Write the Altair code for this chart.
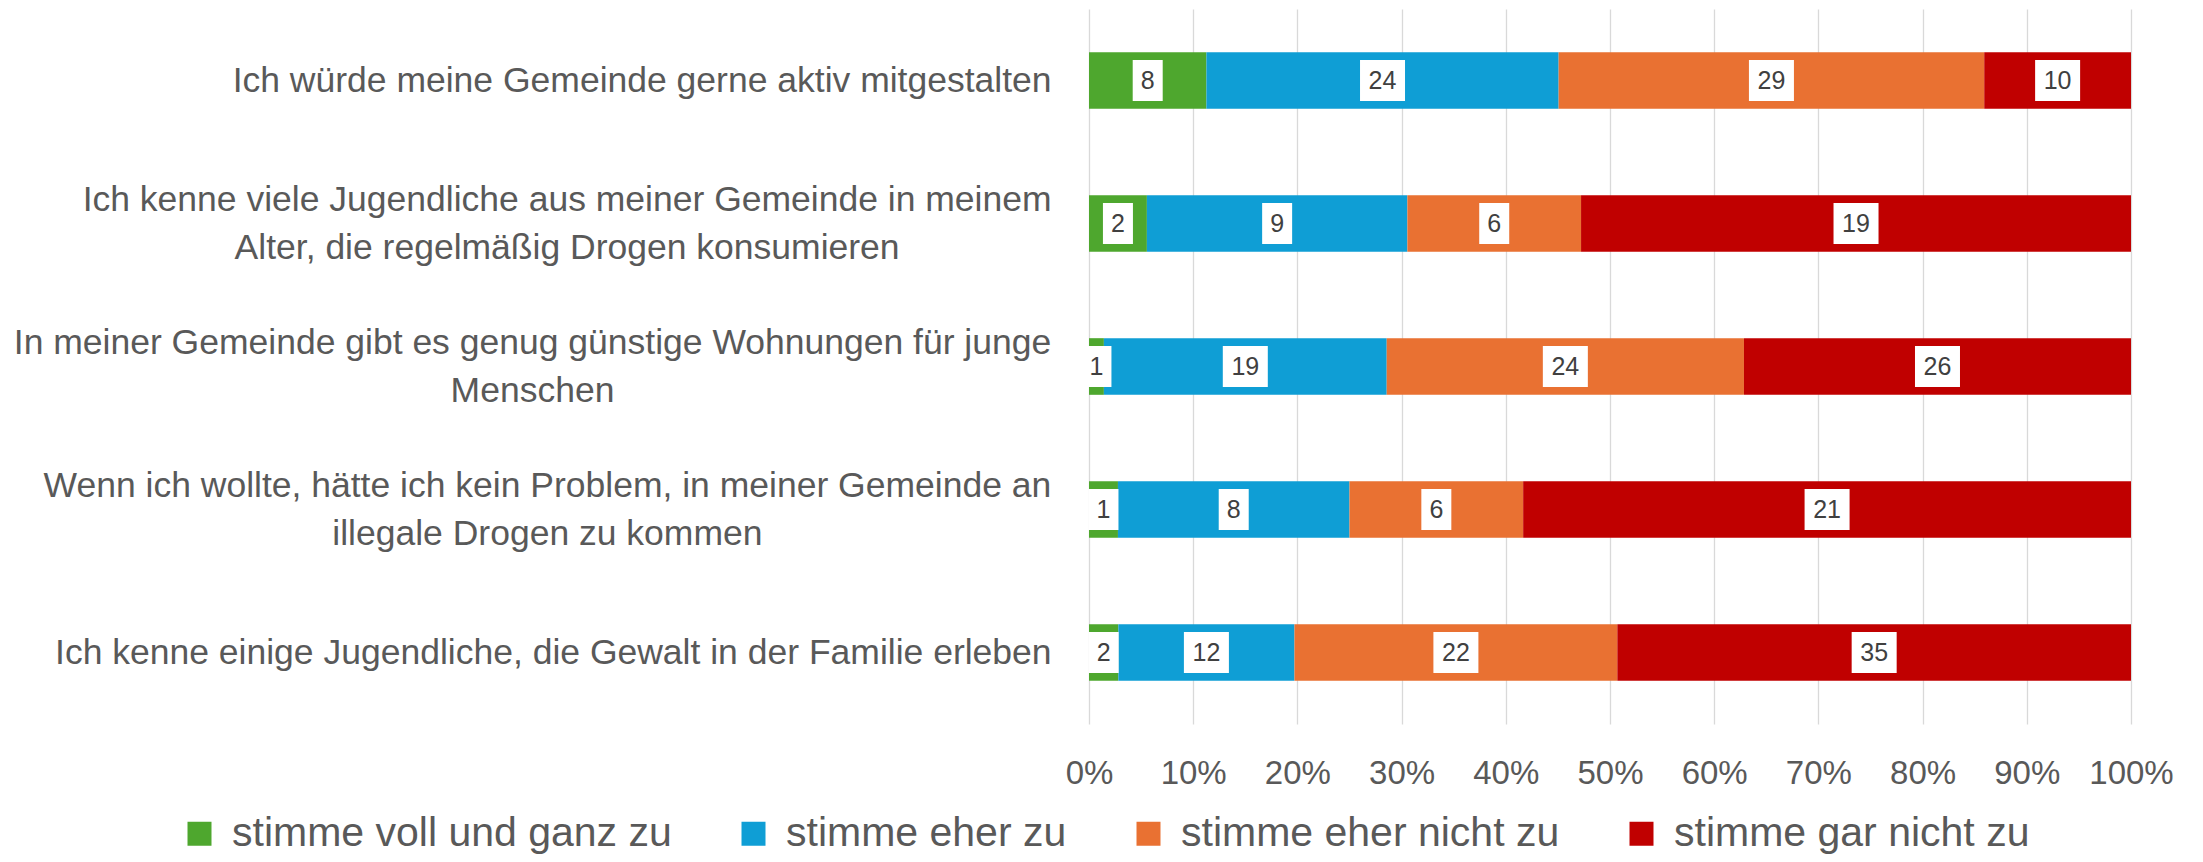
import altair as alt
import pandas as pd

# ---------------- data ----------------
category_lines = [
    ["Ich würde meine Gemeinde gerne aktiv mitgestalten"],
    ["Ich kenne viele Jugendliche aus meiner Gemeinde in meinem",
     "Alter, die regelmäßig Drogen konsumieren"],
    ["In meiner Gemeinde gibt es genug günstige Wohnungen für junge",
     "Menschen"],
    ["Wenn ich wollte, hätte ich kein Problem, in meiner Gemeinde an",
     "illegale Drogen zu kommen"],
    ["Ich kenne einige Jugendliche, die Gewalt in der Familie erleben"],
]
categories = [" ".join(lines) for lines in category_lines]

series = ["stimme voll und ganz zu", "stimme eher zu",
          "stimme eher nicht zu", "stimme gar nicht zu"]
voll_und_ganz = [8, 2, 1, 1, 2]
eher = [24, 9, 19, 8, 12]
eher_nicht = [29, 6, 24, 6, 22]
gar_nicht = [10, 19, 26, 21, 35]
colors = ["#4EA72E", "#0F9ED5", "#E97132", "#C00000"]

values = [voll_und_ganz, eher, eher_nicht, gar_nicht]
rows = []
for i, cat in enumerate(categories):
    for j, s in enumerate(series):
        v = values[j][i]
        rows.append({"category": cat, "series": s, "order": j,
                     "count": v, "digits": str(len(str(v)))})
df = pd.DataFrame(rows)

# ---------------- layout helpers ----------------
FONT = "Liberation Sans"
CAT_SIZE = 35.5
LINE_H = 48
GAP = 38

# Arial / Liberation Sans advance widths (per 1000 em), used to centre
# the multi-line category labels as a block that is right-aligned.
W = {" ": 278, ",": 278, "A": 667, "D": 722, "F": 611, "G": 778, "I": 278,
     "J": 500, "M": 833, "P": 667, "W": 944, "a": 556, "b": 556, "c": 500,
     "d": 556, "e": 556, "f": 278, "g": 556, "h": 556, "i": 222, "j": 222,
     "k": 500, "l": 222, "m": 833, "n": 556, "o": 556, "p": 556, "r": 333,
     "s": 500, "t": 278, "u": 556, "v": 500, "w": 722, "z": 500, "ä": 556,
     "ü": 556, "ß": 611}


def text_width(s, size):
    return sum(W.get(c, 556) for c in s) * size / 1000.0


pad_expr = ""
off_expr = ""
label_expr = ""
for cat, lines in zip(categories, category_lines):
    block = max(text_width(l, CAT_SIZE) for l in lines)
    pad = GAP + block / 2.0
    pad_expr += f"datum.value === '{cat}' ? {pad:.1f} : "
    off = -(len(lines) - 1) * LINE_H / 2.0
    off_expr += f"datum.value === '{cat}' ? {off:.1f} : "
    arr = "[" + ", ".join(f"'{l}'" for l in lines) + "]"
    label_expr += f"datum.value === '{cat}' ? {arr} : "
pad_expr += "500"
off_expr += "0"
label_expr += "datum.label"

# box shapes (white label backgrounds), height 41px, widths 30 / 45 px
BOX_H = 41
box1 = f"M{-30/BOX_H:.4f},-1L{30/BOX_H:.4f},-1L{30/BOX_H:.4f},1L{-30/BOX_H:.4f},1Z"
box2 = f"M{-45/BOX_H:.4f},-1L{45/BOX_H:.4f},-1L{45/BOX_H:.4f},1L{-45/BOX_H:.4f},1Z"

# ---------------- chart ----------------
base = alt.Chart(df).transform_stack(
    stack="count",
    groupby=["category"],
    as_=["x0", "x1"],
    offset="normalize",
    sort=[alt.SortField("order", order="ascending")],
).transform_calculate(mid="(datum.x0 + datum.x1) / 2")

xscale = alt.Scale(domain=[0, 1], nice=False, zero=True)

y_enc = alt.Y(
    "category:N",
    sort=categories,
    title=None,
    scale=alt.Scale(paddingInner=0.604, paddingOuter=0.302),
    axis=alt.Axis(
        domain=False, ticks=False, tickSize=0, grid=False,
        labelFont=FONT, labelFontSize=CAT_SIZE, labelColor="#595959",
        labelAlign="center", labelBaseline="middle", labelLineHeight=LINE_H,
        labelLimit=3000, labelPadding={"expr": pad_expr},
        labelOffset={"expr": off_expr},
        labelExpr=label_expr,
    ),
)

bars = base.mark_bar().encode(
    x=alt.X(
        "x0:Q", scale=xscale, title=None,
        axis=alt.Axis(
            values=[i / 10 for i in range(11)], format=".0%",
            grid=True, gridColor="#D9D9D9", gridWidth=1.3,
            domain=False, ticks=False, labelFlush=False,
            labelFont=FONT, labelFontSize=33, labelColor="#595959",
            labelPadding=33,
        ),
    ),
    x2="x1:Q",
    y=y_enc,
    color=alt.Color(
        "series:N",
        scale=alt.Scale(domain=series, range=colors),
        legend=alt.Legend(
            title=None, orient="none", direction="horizontal",
            legendX=-910, legendY=804,
            symbolType="square", symbolSize=576, symbolStrokeWidth=0,
            symbolOpacity=1,
            labelFont=FONT, labelFontSize=41, labelColor="#595959",
            labelOffset=12, labelLimit=1000, columnPadding=61, padding=0,
        ),
    ),
)

boxes = base.mark_point(
    filled=True, color="white", opacity=1, strokeWidth=0, size=BOX_H * BOX_H
).encode(
    x=alt.X("mid:Q", scale=xscale),
    y=y_enc,
    shape=alt.Shape("digits:N",
                    scale=alt.Scale(domain=["1", "2"], range=[box1, box2]),
                    legend=None),
)

labels = base.mark_text(
    font=FONT, fontSize=25, color="#404040", baseline="middle", align="center"
).encode(
    x=alt.X("mid:Q", scale=xscale),
    y=y_enc,
    text=alt.Text("count:Q"),
)

chart = alt.layer(bars, boxes, labels).properties(
    width=1042,
    height=715,
    padding={"left": 1081, "top": 1, "right": 60, "bottom": 130},
    autosize=alt.AutoSizeParams(type="none"),
).configure_view(stroke=None)

chart.save("out.html", embed_options={"renderer": "svg", "actions": False})
